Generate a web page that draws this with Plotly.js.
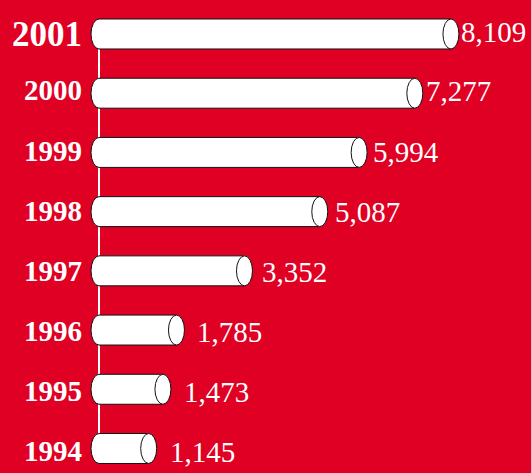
<!DOCTYPE html>
<html>
<head>
<meta charset="utf-8">
<script src="https://cdn.plot.ly/plotly-3.0.1.min.js"></script>
<style>
  html, body { margin: 0; padding: 0; background: #E00024; }
  #chart { width: 531px; height: 473px; }
</style>
</head>
<body>
<div id="chart"></div>
<script>
// Data (bottom to top)
const years = ['1994', '1995', '1996', '1997', '1998', '1999', '2000', '2001'];
const values = [1145, 1473, 1785, 3352, 5087, 5994, 7277, 8109];
const valueLabels = ['1,145', '1,473', '1,785', '3,352', '5,087', '5,994', '7,277', '8,109'];

const RED = '#E00024';
const SERIF = 'Liberation Serif';
const halfH = 0.253;   // half bar thickness in y units
const capW = 184;      // half ellipse width in x units

const shapes = [];
// vertical baseline
shapes.push({type: 'line', xref: 'x', yref: 'y', x0: 0, x1: 0, y0: 0, y1: years.length - 1,
  line: {color: 'white', width: 2}});

years.forEach((y, i) => {
  const v = values[i];
  const y0 = i - halfH, y1 = i + halfH;
  // back (left) cap
  shapes.push({type: 'circle', xref: 'x', yref: 'y', x0: -capW, x1: capW, y0: y0, y1: y1,
    fillcolor: 'white', line: {color: '#111', width: 1}});
  // body
  shapes.push({type: 'rect', xref: 'x', yref: 'y', x0: 0, x1: v, y0: y0, y1: y1,
    fillcolor: 'white', line: {width: 0}});
  shapes.push({type: 'line', xref: 'x', yref: 'y', x0: 0, x1: v, y0: y1, y1: y1,
    line: {color: '#111', width: 1}});
  shapes.push({type: 'line', xref: 'x', yref: 'y', x0: 0, x1: v, y0: y0, y1: y0,
    line: {color: '#111', width: 1}});
  // front (right) cap
  shapes.push({type: 'circle', xref: 'x', yref: 'y', x0: v - capW, x1: v + capW, y0: y0, y1: y1,
    fillcolor: 'white', line: {color: '#111', width: 1}});
});

const annotations = [];
years.forEach((y, i) => {
  const big = i === years.length - 1;
  // labels are placed on their own label scale (x2 / y2)
  annotations.push({x: 0, y: i, xref: 'x', yref: 'y2', text: '<b>' + y + '</b>', showarrow: false,
    xanchor: 'right', yanchor: 'middle', xshift: -15, yshift: big ? -3 : 1,
    font: {family: SERIF, size: big ? 35 : 29, color: 'white'}});
  annotations.push({x: values[i], y: i, xref: 'x2', yref: 'y2', text: valueLabels[i], showarrow: false,
    xanchor: 'left', yanchor: 'middle', xshift: -2, yshift: big ? -1 : 0,
    font: {family: SERIF, size: 29, color: 'white'}});
});

// invisible traces to set up axes
const trace = {x: values, y: years.map((_, i) => i), type: 'scatter', mode: 'markers',
  marker: {opacity: 0}, hoverinfo: 'skip', showlegend: false};
const trace2 = {x: values, y: years.map((_, i) => i), xaxis: 'x2', yaxis: 'y2', type: 'scatter', mode: 'markers',
  marker: {opacity: 0}, hoverinfo: 'skip', showlegend: false};

const layout = {
  width: 531, height: 473,
  margin: {l: 0, r: 0, t: 0, b: 0, pad: 0},
  paper_bgcolor: RED, plot_bgcolor: RED,
  font: {family: SERIF},
  xaxis: {range: [-2281, 9954], visible: false, showgrid: false, zeroline: false, fixedrange: true},
  xaxis2: {range: [-2919, 9785], overlaying: 'x', side: 'top', visible: false, showgrid: false, zeroline: false, fixedrange: true},
  yaxis: {range: [-0.414, 7.574], visible: false, showgrid: false, zeroline: false, fixedrange: true},
  yaxis2: {range: [-0.3495, 7.5226], overlaying: 'y', side: 'right', visible: false, showgrid: false, zeroline: false, fixedrange: true},
  shapes: shapes,
  annotations: annotations,
  showlegend: false
};

Plotly.newPlot('chart', [trace, trace2], layout, {displayModeBar: false, staticPlot: true});
</script>
</body>
</html>
